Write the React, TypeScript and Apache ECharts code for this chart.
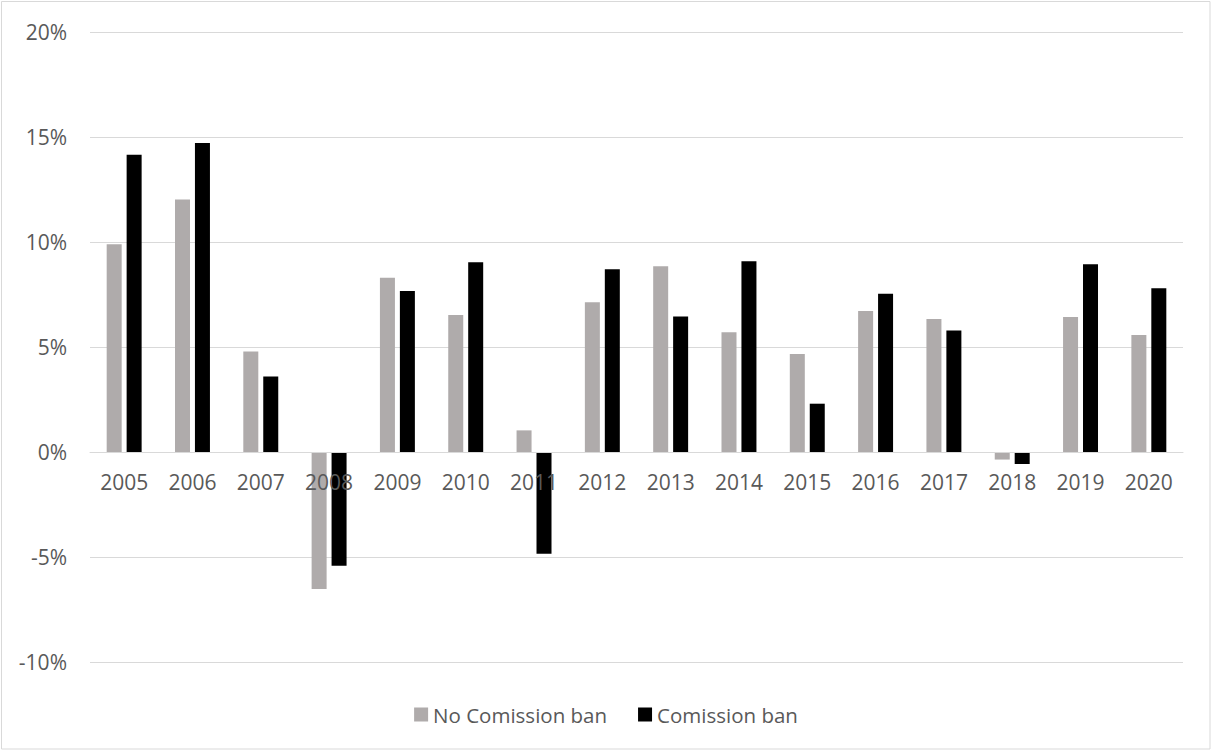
import React, { useEffect, useRef } from "react";
import * as echarts from "echarts";

const years = ["2005","2006","2007","2008","2009","2010","2011","2012","2013","2014","2015","2016","2017","2018","2019","2020"];
const noBan = [9.89, 12.02, 4.78, -6.52, 8.30, 6.52, 1.03, 7.13, 8.84, 5.70, 4.67, 6.71, 6.33, -0.36, 6.43, 5.57];
const ban = [14.16, 14.71, 3.60, -5.42, 7.67, 9.03, -4.84, 8.70, 6.45, 9.08, 2.30, 7.54, 5.78, -0.57, 8.94, 7.80];
const seriesNames = ["No Comission ban", "Comission ban"];

export default function App() {
  const ref = useRef<HTMLDivElement>(null);
  useEffect(() => {
    document.body.style.margin = "0";
    const chart = echarts.init(ref.current!, null, { renderer: "svg" });
    const font = "'Open Sans', sans-serif";
    chart.setOption({
      animation: false,
      backgroundColor: "#ffffff",
      textStyle: { fontFamily: font },
      graphic: [
        {
          type: "rect",
          shape: { x: 1.5, y: 1.5, width: 1208.5, height: 747.5 },
          style: { fill: "none", stroke: "#d9d9d9", lineWidth: 1 },
          silent: true,
        },
      ],
      grid: { left: 90, right: 29, top: 32, bottom: 89 },
      legend: {
        top: 699,
        left: "center",
        itemWidth: 14,
        itemHeight: 14,
        itemGap: 31,
        icon: "rect",
        textStyle: { fontSize: 20.5, color: "#595959", fontFamily: font },
        data: seriesNames,
      },
      xAxis: {
        type: "category",
        data: years,
        position: "bottom",
        offset: -210,
        axisLine: { onZero: false, lineStyle: { color: "#d9d9d9", width: 1 } },
        axisTick: { show: false },
        axisLabel: { fontSize: 21, color: "#595959", margin: 19, fontFamily: font },
        z: 10,
      },
      yAxis: {
        type: "value",
        min: -10,
        max: 20,
        interval: 5,
        axisLine: { show: false },
        axisTick: { show: false },
        splitLine: { lineStyle: { color: "#d9d9d9", width: 1 } },
        axisLabel: { fontSize: 21, color: "#595959", margin: 23, fontFamily: font, formatter: "{value}%" },
      },
      series: [
        {
          name: seriesNames[0],
          type: "bar",
          data: noBan,
          barWidth: 15,
          barGap: "33%",
          itemStyle: { color: "#afabab" },
          z: 3,
        },
        {
          name: seriesNames[1],
          type: "bar",
          data: ban,
          barWidth: 15,
          itemStyle: { color: "#000000" },
          z: 3,
        },
      ],
    });
    return () => chart.dispose();
  }, []);
  return <div ref={ref} style={{ width: 1212, height: 751 }} />;
}
